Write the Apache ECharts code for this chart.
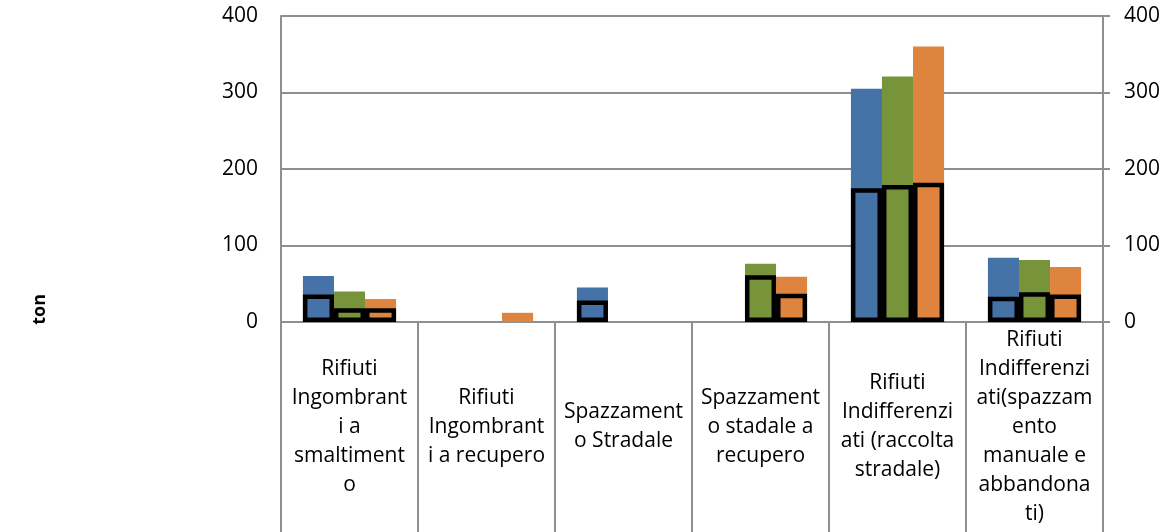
<!DOCTYPE html>
<html>
<head>
<meta charset="utf-8">
<script src="https://cdn.jsdelivr.net/npm/echarts@6/dist/echarts.min.js"></script>
<style>
  html, body { margin: 0; padding: 0; background: #fff; }
  #chart { width: 1168px; height: 532px; }
</style>
</head>
<body>
<div id="chart"></div>
<script>
// categorie (a capo come nel grafico originale)
const categories = [
  'Rifiuti\nIngombrant\ni a\nsmaltiment\no',
  'Rifiuti\nIngombrant\ni a recupero',
  'Spazzament\no Stradale',
  'Spazzament\no stadale a\nrecupero',
  'Rifiuti\nIndifferenzi\nati (raccolta\nstradale)',
  'Rifiuti\nIndifferenzi\nati(spazzam\nento\nmanuale e\nabbandona\nti)'
]
const yTicks = [0, 100, 200, 300, 400]

// barre piene
const fillBlue = [60, null, 45, null, 305, 84]
const fillGreen = [40, null, null, 76, 321, 81]
const fillOrange = [30, 12, null, 59, 360, 72]
// barre con bordo nero
const boxBlue = [36, null, 28, null, 175, 33]
const boxGreen = [18, null, null, 61, 179, 39]
const boxOrange = [18, null, null, 37, 182, 36]

const BLUE = '#4572a7'
const GREEN = '#77943a'
const ORANGE = '#de843f'
const GRID_COLOR = '#8f8f8f'
const FONT = 'Open Sans'

const chart = echarts.init(document.getElementById('chart'))

function barSeries(name, data, color, xIdx, boxed) {
  return {
    name: name,
    type: 'bar',
    xAxisIndex: xIdx,
    yAxisIndex: 0,
    barGap: '0%',
    barCategoryGap: '32%',
    itemStyle: boxed
      ? { color: color, borderColor: '#000', borderWidth: 4.5 }
      : { color: color },
    data: data
  }
}

const xLabel = {
  interval: 0,
  margin: 105,
  verticalAlign: 'middle',
  align: 'center',
  fontFamily: FONT,
  fontSize: 21,
  lineHeight: 29,
  color: '#000'
}

chart.setOption({
  animation: false,
  backgroundColor: '#fff',
  grid: { left: 281, right: 65, top: 16, bottom: 210 },
  graphic: [{
    type: 'text',
    left: 31,
    top: 294,
    rotation: Math.PI / 2,
    style: { text: 'ton', font: 'bold 18px "Open Sans"', fill: '#000' }
  }],
  xAxis: [{
    type: 'category',
    data: categories,
    axisLine: { show: true, lineStyle: { color: GRID_COLOR, width: 2 } },
    axisTick: { show: true, length: 210, lineStyle: { color: GRID_COLOR, width: 2 } },
    axisLabel: xLabel,
    splitLine: { show: false }
  }, {
    type: 'category',
    data: categories,
    show: false
  }],
  yAxis: [{
    type: 'value',
    min: 0,
    max: 400,
    interval: 100,
    position: 'left',
    axisLine: { show: true, lineStyle: { color: GRID_COLOR, width: 2 } },
    axisTick: { show: false },
    splitLine: { show: true, lineStyle: { color: GRID_COLOR, width: 2 } },
    axisLabel: {
      margin: 23,
      fontFamily: FONT,
      fontSize: 21,
      color: '#000',
      formatter: v => yTicks.includes(v) ? String(v) : ''
    }
  }, {
    type: 'value',
    min: 0,
    max: 400,
    interval: 100,
    position: 'right',
    axisLine: { show: true, lineStyle: { color: GRID_COLOR, width: 2 } },
    axisTick: { show: true, length: 7, lineStyle: { color: GRID_COLOR, width: 2 } },
    splitLine: { show: false },
    axisLabel: {
      margin: 21,
      fontFamily: FONT,
      fontSize: 21,
      color: '#000'
    }
  }],
  series: [
    barSeries('Serie 1', fillBlue, BLUE, 0, false),
    barSeries('Serie 2', fillGreen, GREEN, 0, false),
    barSeries('Serie 3', fillOrange, ORANGE, 0, false),
    barSeries('Serie 4', boxBlue, BLUE, 1, true),
    barSeries('Serie 5', boxGreen, GREEN, 1, true),
    barSeries('Serie 6', boxOrange, ORANGE, 1, true)
  ]
})
</script>
</body>
</html>
